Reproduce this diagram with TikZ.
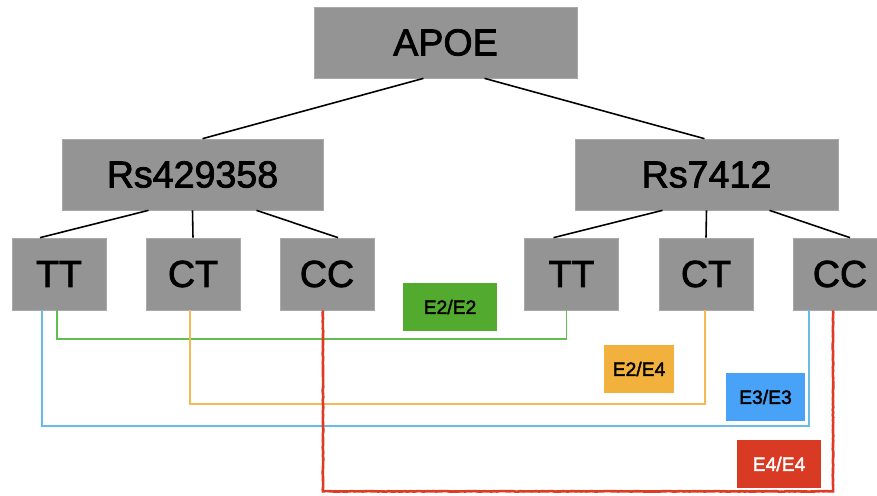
\documentclass[tikz,border=0pt]{standalone}
\usepackage{fontspec}
\setmainfont{Liberation Sans}
\newfontfamily\medsans[FakeBold=2]{Liberation Sans}
\usetikzlibrary{calc,decorations.pathmorphing}

\definecolor{boxgray}{RGB}{148,148,148}
\definecolor{tagGreen}{RGB}{82,170,46}
\definecolor{tagOrange}{RGB}{242,176,60}
\definecolor{tagBlue}{RGB}{72,162,247}
\definecolor{tagRed}{RGB}{216,58,36}
\definecolor{lnGreen}{RGB}{98,190,80}
\definecolor{lnOrange}{RGB}{246,184,82}
\definecolor{lnBlue}{RGB}{104,188,228}
\definecolor{lnRed}{RGB}{222,58,36}

\tikzset{
  gene/.style={fill=boxgray, draw=boxgray!80!white, line width=0.4pt, inner sep=0pt,
    font=\medsans\fontsize{21.4}{24}\selectfont},
  geno/.style={gene, minimum width=1.88cm, minimum height=1.44cm},
  tag/.style={inner sep=0pt, minimum height=0.96cm, font=\medsans\fontsize{11}{13}\selectfont},
  tree/.style={line width=0.9pt},
  link/.style={line width=1.1pt},
}

\begin{document}
\begin{tikzpicture}[x=0.02cm, y=-0.02cm]
\useasboundingbox (0,0) rectangle (877,495);

% top of the tree
\node [gene, minimum width=5.26cm, minimum height=1.42cm] (apoe) at (445.5,42.5) {APOE};
\node [gene, minimum width=5.22cm, minimum height=1.42cm] (rsA) at (192.5,174.5) {Rs429358};
\node [gene, minimum width=5.26cm, minimum height=1.42cm] (rsB) at (706.5,174.5) {Rs7412};

% genotypes
\node [geno] (lTT) at (59,274) {TT};
\node [geno] (lCT) at (193,274) {CT};
\node [geno] (lCC) at (327,274) {CC};
\node [geno] (rTT) at (571.5,274) {TT};
\node [geno] (rCT) at (706,274) {CT};
\node [geno] (rCC) at (840,274) {CC};

% isoforms
\node [tag, fill=tagGreen, minimum width=1.9cm] (e22) at (450,307) {E2/E2};
\node [tag, fill=tagOrange, minimum width=1.4cm] (e24) at (639,369) {E2/E4};
\node [tag, fill=tagBlue, minimum width=1.58cm] (e33) at (765.5,397) {E3/E3};
\node [tag, fill=tagRed, minimum width=1.68cm, text=white] (e44) at (779,464) {E4/E4};

\draw [tree] ($(apoe.south)+(-22,0)$) -- ($(rsA.north)+(10,0)$);
\draw [tree] ($(apoe.south)+(39,0)$) -- ($(rsB.north)+(-2,0)$);

\draw [tree] ($(rsA.south)+(-44,0)$) -- ($(lTT.north)+(-19,0)$);
\draw [tree] (rsA.south) -- (lCT.north);
\draw [tree] ($(rsA.south)+(64,0)$) -- ($(lCC.north)+(11,0)$);

\draw [tree] ($(rsB.south)+(-44,0)$) -- ($(rTT.north)+(-18,0)$);
\draw [tree] (rsB.south) -- (rCT.north);
\draw [tree] ($(rsB.south)+(63,0)$) -- ($(rCC.north)+(10,0)$);

% allele pairs
\draw [link, lnGreen] ($(lTT.south)+(-2,0)$) -- ++(0,29) -| ($(rTT.south)+(-5,0)$);
\draw [link, lnOrange] ($(lCT.south)+(-3,0)$) -- ++(0,94) -| ($(rCT.south)+(-1,0)$);
\draw [link, lnBlue] ($(lTT.south)+(-17,0)$) -- ++(0,116) -| ($(rCC.south)+(-31,0)$);
\draw [line width=1.5pt, lnRed, decorate,
       decoration={random steps, segment length=1.5pt, amplitude=0.15pt}]
  ($(lCC.south)+(-4,0)$) -- ++(0,181) -| ($(rCC.south)+(-7,0)$);

\end{tikzpicture}
\end{document}
